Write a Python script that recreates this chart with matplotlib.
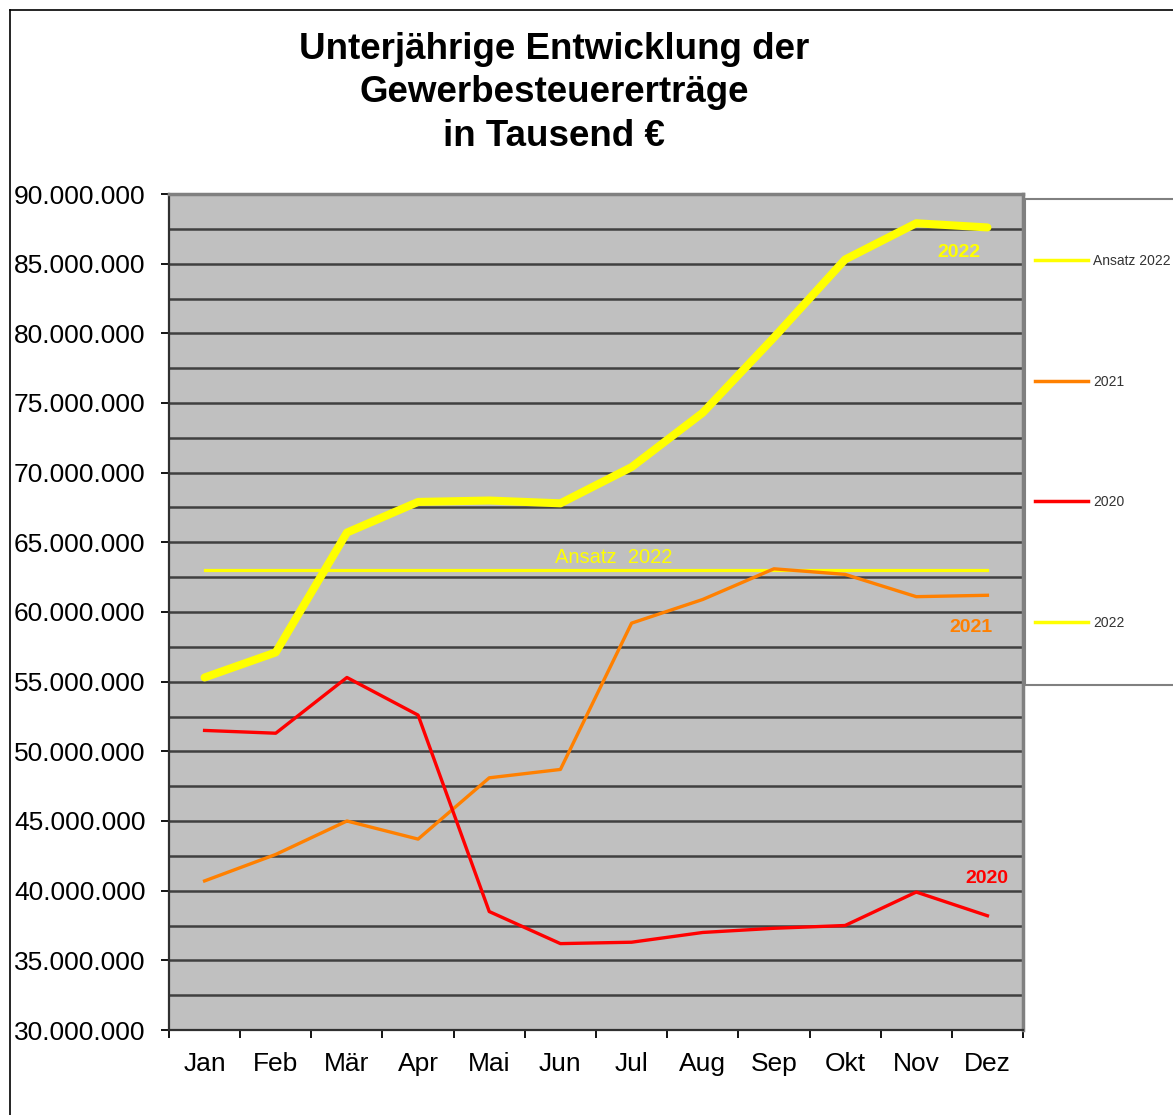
import matplotlib
matplotlib.use("Agg")
import matplotlib.pyplot as plt
from matplotlib.ticker import FuncFormatter, MultipleLocator
from matplotlib.patches import Rectangle
from matplotlib.lines import Line2D

plt.rcParams["font.family"] = ["Liberation Sans", "DejaVu Sans"]

months = ["Jan", "Feb", "Mär", "Apr", "Mai", "Jun", "Jul", "Aug", "Sep", "Okt", "Nov", "Dez"]

# values in Tausend Euro
v2022 = [55.3e6, 57.1e6, 65.7e6, 67.9e6, 68.0e6, 67.8e6, 70.4e6, 74.3e6, 79.7e6, 85.3e6, 87.9e6, 87.6e6]
v2021 = [40.7e6, 42.6e6, 45.0e6, 43.7e6, 48.1e6, 48.7e6, 59.2e6, 60.9e6, 63.1e6, 62.7e6, 61.1e6, 61.2e6]
v2020 = [51.5e6, 51.3e6, 55.3e6, 52.6e6, 38.5e6, 36.2e6, 36.3e6, 37.0e6, 37.3e6, 37.5e6, 39.9e6, 38.2e6]
ansatz_2022 = 63.0e6

YELLOW = "#FFFF00"
ORANGE = "#FF8000"
RED = "#FF0000"

fig = plt.figure(figsize=(11.73, 11.15), dpi=100)
W, H = 1173, 1115

ax = fig.add_axes([169 / W, 1 - 1030 / H, (1023 - 169) / W, (1030 - 194) / H])
ax.set_facecolor("#C0C0C0")

x = list(range(len(months)))

# grid every 2.5 Mio
ax.yaxis.set_major_locator(MultipleLocator(5e6))
ax.yaxis.set_minor_locator(MultipleLocator(2.5e6))
ax.grid(True, which="both", axis="y", color="#404040", linewidth=1.8, zorder=1)
ax.set_axisbelow(True)

ax.plot(x, [ansatz_2022] * len(x), color=YELLOW, linewidth=2.3, zorder=3)
ax.plot(x, v2021, color=ORANGE, linewidth=2.4, zorder=4)
ax.plot(x, v2020, color=RED, linewidth=2.4, zorder=4)
ax.plot(x, v2022, color=YELLOW, linewidth=5.8, solid_capstyle="round", zorder=5)

ax.set_xlim(-0.5, len(months) - 0.5)
ax.set_ylim(30e6, 90e6)

ax.yaxis.set_major_formatter(FuncFormatter(lambda v, p: f"{v:,.0f}".replace(",", ".")))
ax.tick_params(axis="y", which="major", labelsize=19, length=6, width=1.3,
               pad=11, colors="#000000", direction="out")
ax.tick_params(axis="y", which="minor", length=0)

# category ticks between months, labels centered
ax.set_xticks([i - 0.5 for i in range(len(months) + 1)])
ax.set_xticklabels([])
ax.set_xticks(x, minor=True)
ax.set_xticklabels(months, minor=True)
ax.tick_params(axis="x", which="major", length=6, width=1.3, direction="out")
ax.tick_params(axis="x", which="minor", length=0, labelsize=19, pad=15.5)

for s in ["top", "right"]:
    ax.spines[s].set_color("#808080")
    ax.spines[s].set_linewidth(2.5)
for s in ["left", "bottom"]:
    ax.spines[s].set_color("#303030")
    ax.spines[s].set_linewidth(1.6)

# series labels
ax.text(10.6, 85.8e6, "2022", color=YELLOW, fontsize=14, fontweight="bold",
        ha="center", va="center", zorder=6)
ax.text(10.77, 58.9e6, "2021", color=ORANGE, fontsize=14, fontweight="bold",
        ha="center", va="center", zorder=6)
ax.text(10.99, 40.9e6, "2020", color=RED, fontsize=14, fontweight="bold",
        ha="center", va="center", zorder=6)
ax.text(5.75, 63.9e6, "Ansatz  2022", color=YELLOW, fontsize=14.5,
        ha="center", va="center", zorder=6)

# title
fig.text(554 / W, 1 - 93 / H, "Unterjährige Entwicklung der\nGewerbesteuererträge\nin Tausend €",
         ha="center", va="center", fontsize=26.5, fontweight="bold", linespacing=1.32)

# legend box
fig.patches.append(Rectangle((1025 / W, 1 - 685 / H), 200 / W, (685 - 199) / H,
                             transform=fig.transFigure, facecolor="white",
                             edgecolor="#808080", linewidth=1.5, zorder=0))
handles = [Line2D([], [], color=YELLOW, linewidth=2.5),
           Line2D([], [], color=ORANGE, linewidth=2.5),
           Line2D([], [], color=RED, linewidth=2.5),
           Line2D([], [], color=YELLOW, linewidth=2.5)]
labels = ["Ansatz 2022", "2021", "2020", "2022"]
leg = fig.legend(handles, labels, loc="center left",
                 bbox_to_anchor=(1031 / W, 1 - 442 / H), frameon=False,
                 fontsize=10, handlelength=3.8, handletextpad=0.36,
                 labelspacing=7.68, borderpad=0.3, borderaxespad=0)
for t in leg.get_texts():
    t.set_color("#333333")

# outer frame
fig.add_artist(Line2D([10 / W, 10 / W], [0, 1 - 10 / H], transform=fig.transFigure,
                      color="black", linewidth=1.2))
fig.add_artist(Line2D([10 / W, 1], [1 - 10 / H, 1 - 10 / H], transform=fig.transFigure,
                      color="black", linewidth=1.2))

fig.savefig("out.png", dpi=100)
